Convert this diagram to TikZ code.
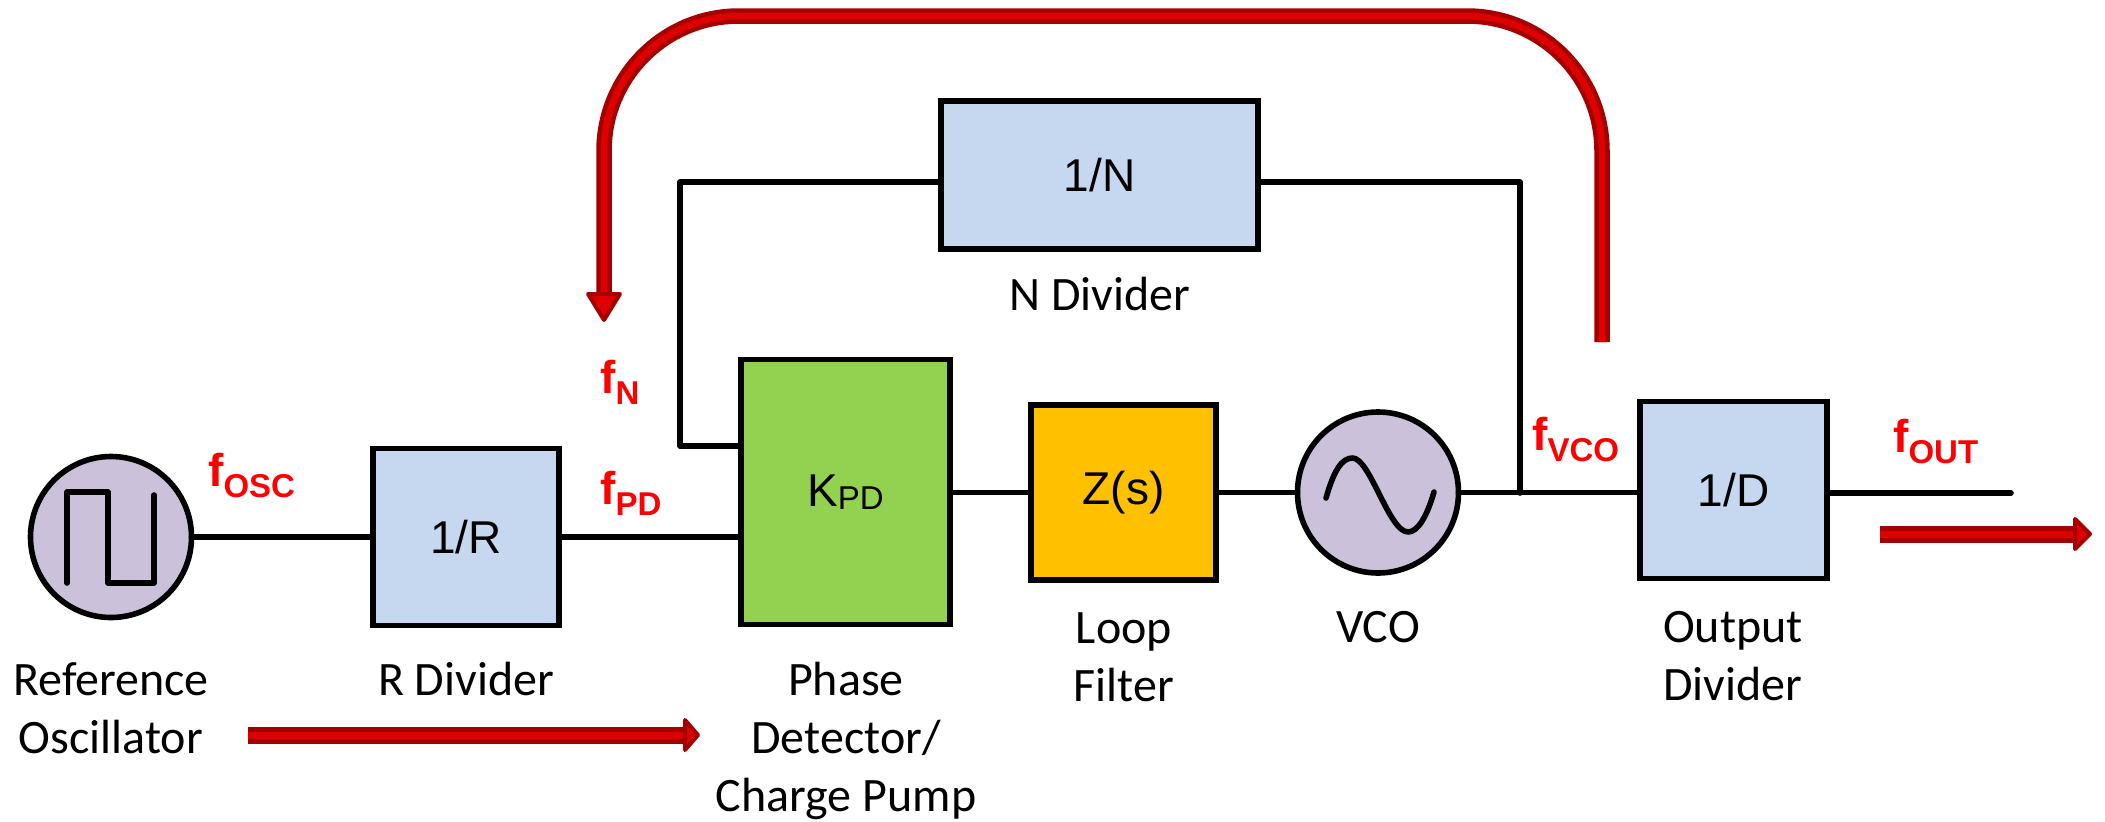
\documentclass[tikz,border=0pt]{standalone}
\usepackage{fontspec}
\setmainfont{Carlito}
\newfontfamily\arialf{Liberation Sans}
\definecolor{boxblue}{HTML}{C6D8F0}
\definecolor{boxgreen}{HTML}{92D250}
\definecolor{boxyellow}{HTML}{FFC000}
\definecolor{boxpurple}{HTML}{CCC1DA}
\definecolor{reddark}{HTML}{A50000}
\definecolor{redlight}{HTML}{DE0000}
\newcommand{\flabel}[1]{{\arialf\bfseries\fontsize{46}{46}\selectfont f\raisebox{-11pt}{\fontsize{33}{33}\selectfont #1}}}
\tikzset{
  x=1pt,y=-1pt,
  block/.style={draw=black,line width=5.6pt,outer sep=0pt,inner sep=0pt,font=\arialf\fontsize{46}{46}\selectfont,text=black},
  source/.style={block,circle,fill=boxpurple,minimum size=161pt},
  wire/.style={draw=black,line width=5.6pt,line cap=round,line join=round},
  caption/.style={font=\fontsize{48}{58}\selectfont,align=center,anchor=base,inner sep=0pt,text=black},
  freq/.style={text=red,anchor=base west,inner sep=0pt},
  redshaft/.style={draw=reddark,line width=4.5pt,double=redlight,double distance=6.5pt},
  redbar/.style={draw=reddark,line width=5pt,double=redlight,double distance=7pt},
  redhead/.style={draw=reddark,fill=redlight,line width=4pt,line join=round},
}
\begin{document}
\begin{tikzpicture}
\useasboundingbox (0,0) rectangle (2105,822);
\coordinate (j) at (1520,493);
\coordinate (fb) at (680,446);
\coordinate (outend) at (2011,493);
% blocks
\node[source] (osc) at (111,537) {};
\node[block,fill=boxblue,minimum width=186pt,minimum height=177pt] (rdiv) at (466,537) {1/R};
\node[block,fill=boxgreen,minimum width=209pt,minimum height=265pt] (pfd) at (845.5,492) {K{\fontsize{33}{33}\selectfont\raisebox{-3pt}{PD}}};
\node[block,fill=boxyellow,minimum width=185pt,minimum height=175pt] (filt) at (1123.5,492.5) {Z(s)};
\node[source] (vco) at (1378,492.5) {};
\node[block,fill=boxblue,minimum width=187pt,minimum height=177pt] (odiv) at (1733.5,490) {1/D};
\node[block,fill=boxblue,minimum width=317pt,minimum height=148pt] (ndiv) at (1099.5,175) {1/N};
% wires
\draw[wire] (osc.east) -- (osc.east -| rdiv.west);
\draw[wire] (rdiv.east) -- (rdiv.east -| pfd.west);
\draw[wire] (pfd.east |- filt.west) -- (filt.west);
\draw[wire] (filt.east) -- (vco.west);
\draw[wire] (vco.east) -- (vco.east -| odiv.west);
\draw[wire] (odiv.east |- outend) -- (outend);
\draw[wire] (ndiv.east |- 0,182) -- (j |- 0,182) -- (j);
\draw[wire] (ndiv.west |- 0,182) -- (fb |- 0,182) -- (fb) -- (fb -| pfd.west);
% waveforms
\draw[wire] (67,583) -- (67,492) -- (108,492) -- (108,583) -- (154,583) -- (154,495);
\draw[wire] (1326,498) .. controls (1334,470) and (1342,458) .. (1352.5,458) .. controls (1370,458) and (1389,532) .. (1408,532) .. controls (1418,532) and (1427,516) .. (1434,492);
% flow arrows
\coordinate (a1) at (1602,342);
\coordinate (a2) at (1602,16);
\coordinate (a3) at (604,16);
\coordinate (a4) at (604,294);
\draw[redshaft,rounded corners=135pt] (a1) -- (a2) -- (a3) -- (a4);
\draw[redhead] (588,294) -- (620,294) -- (604,320) -- cycle;
\coordinate (b1) at (248,735);
\coordinate (b2) at (685,735);
\draw[redbar] (b1) -- (b2);
\draw[redhead] (685,720) -- (698,735) -- (685,750) -- cycle;
\coordinate (c1) at (1880,534);
\coordinate (c2) at (2075,534);
\draw[redbar] (c1) -- (c2);
\draw[redhead] (2075,519) -- (2090,534) -- (2075,549) -- cycle;
% captions
\node[caption] (c-osc) at (111,753) {Reference\\Oscillator};
\node[caption] (c-r) at (466,695) {R Divider};
\node[caption] (c-pd) at (846,811) {Phase\\Detector/\\Charge Pump};
\node[caption] (c-f) at (1124,701) {Loop\\Filter};
\node[caption] (c-v) at (1378,642) {VCO};
\node[caption] (c-o) at (1733,700) {Output\\Divider};
\node[caption] (c-n) at (1100,310) {N Divider};
% frequencies
\node[freq] (f-osc) at (208,486) {\flabel{OSC}};
\node[freq] (f-pd) at (600,504) {\flabel{PD}};
\node[freq] (f-n) at (600,393) {\flabel{N}};
\node[freq] (f-vco) at (1532,450) {\flabel{VCO}};
\node[freq] (f-out) at (1893,452) {\flabel{OUT}};
\end{tikzpicture}
\end{document}
